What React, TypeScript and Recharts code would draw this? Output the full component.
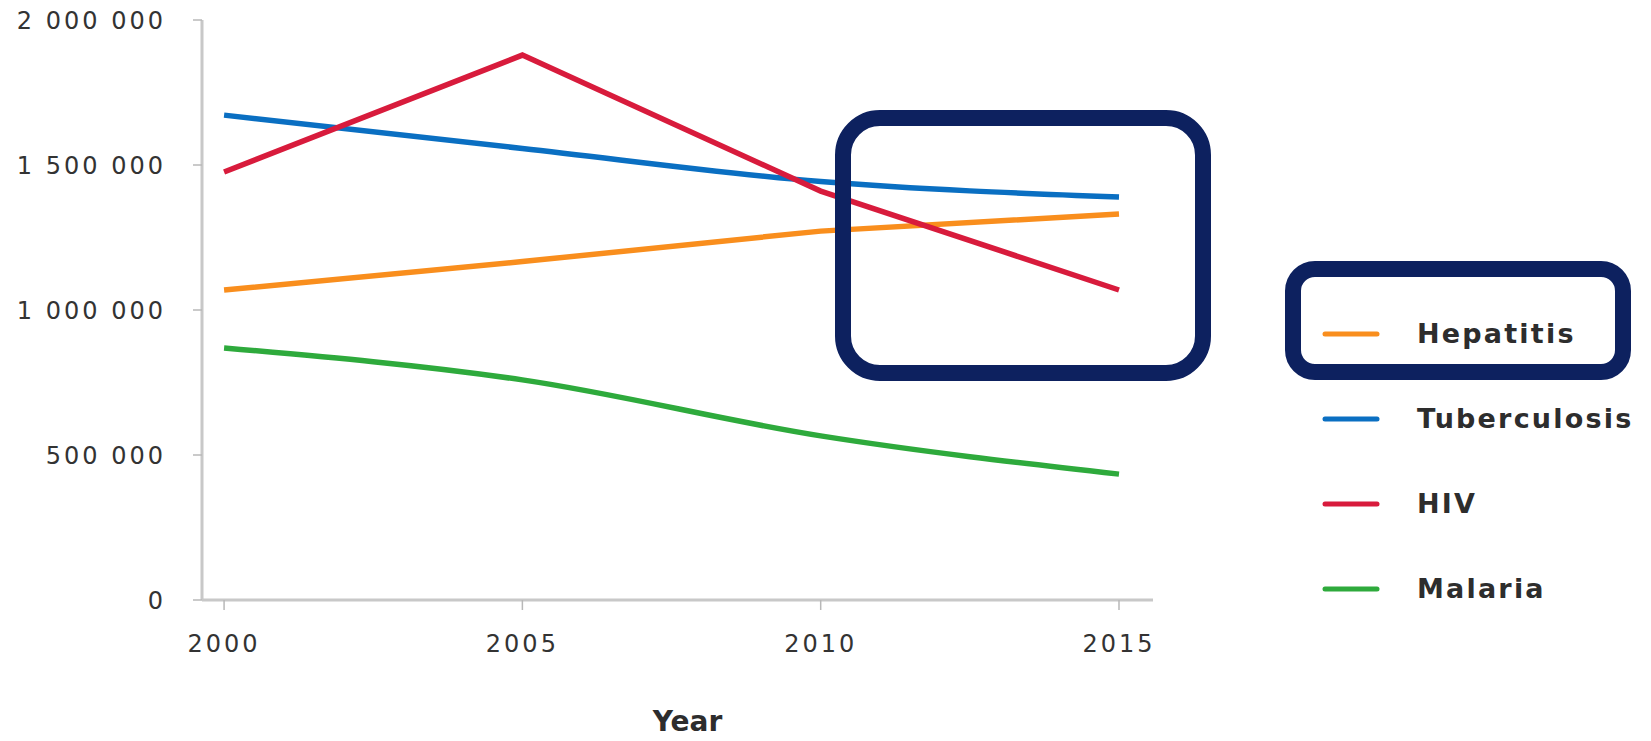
import React from 'react';
import { LineChart, Line, XAxis, YAxis } from 'recharts';

const years = [2000, 2005, 2010, 2015];
const hepatitis = [1069000, 1167000, 1272000, 1331000];
const tuberculosis = [1672000, 1557000, 1443000, 1390000];
const hiv = [1476000, 1879000, 1410000, 1069000];
const malaria = [869000, 759000, 566000, 434000];
const yTicks = [0, 500000, 1000000, 1500000, 2000000];
const xTicks = [2000, 2005, 2010, 2015];

const seriesNames = ['Hepatitis', 'Tuberculosis', 'HIV', 'Malaria'];
const seriesColors = ['#F98E1D', '#0A6FC2', '#D81B3C', '#2EAA3C'];

const data = years.map((y, i) => ({
  year: y,
  Hepatitis: hepatitis[i],
  Tuberculosis: tuberculosis[i],
  HIV: hiv[i],
  Malaria: malaria[i],
}));

const fmt = (v: number) => String(v).replace(/\B(?=(\d{3})+(?!\d))/g, ' ');

const tickStyle = { fontFamily: 'DejaVu Sans', fontSize: 24, fill: '#333', letterSpacing: 3 };
const NAVY = '#0D215F';

const LegendBlock = () => (
  <div
    style={{
      position: 'absolute',
      left: 1322,
      top: 291,
      width: 329,
      fontFamily: 'DejaVu Sans',
      fontWeight: 'bold',
      fontSize: 27,
      color: '#2d2d2d',
      letterSpacing: 2.2,
    }}
  >
    {seriesNames.map((n, i) => (
      <div key={n} style={{ display: 'flex', alignItems: 'center', height: 85 }}>
        <svg width={58} height={10} style={{ display: 'block' }}>
          <line x1={3} y1={5} x2={55} y2={5} stroke={seriesColors[i]} strokeWidth={5} strokeLinecap="round" />
        </svg>
        <span style={{ marginLeft: 37 }}>{n}</span>
      </div>
    ))}
  </div>
);

export default function App() {
  return (
    <div style={{ position: 'absolute', left: 0, top: 0, width: 1651, height: 741, background: '#fff', overflow: 'hidden' }}>
      <LineChart width={1651} height={741} data={data} margin={{ top: 20, right: 498, bottom: 0, left: 0 }}>
        <XAxis
          dataKey="year"
          type="number"
          domain={[1999.63, 2015.57]}
          ticks={xTicks}
          height={141}
          axisLine={{ stroke: '#c8c8c8', strokeWidth: 3 }}
          tickLine={{ stroke: '#b8b8b8', strokeWidth: 1.5 }}
          tickSize={10}
          tickMargin={25}
          tick={tickStyle}
          label={{
            value: 'Year',
            position: 'insideBottom',
            offset: 10,
            dx: 10,
            style: { fontFamily: 'DejaVu Sans', fontWeight: 'bold', fontSize: 28, fill: '#2d2d2d' },
          }}
        />
        <YAxis
          type="number"
          domain={[0, 2000000]}
          ticks={yTicks}
          width={202}
          axisLine={{ stroke: '#c8c8c8', strokeWidth: 3 }}
          tickLine={{ stroke: '#b8b8b8', strokeWidth: 1.5 }}
          tickSize={9}
          tickMargin={27}
          tick={tickStyle}
          tickFormatter={fmt}
        />
        <Line dataKey="Hepatitis" stroke={seriesColors[0]} strokeWidth={5.5} dot={false} type="linear" isAnimationActive={false} />
        <Line dataKey="Tuberculosis" stroke={seriesColors[1]} strokeWidth={5.5} dot={false} type="monotone" isAnimationActive={false} />
        <Line dataKey="HIV" stroke={seriesColors[2]} strokeWidth={5.5} dot={false} type="linear" isAnimationActive={false} />
        <Line dataKey="Malaria" stroke={seriesColors[3]} strokeWidth={5.5} dot={false} type="monotone" isAnimationActive={false} />
      </LineChart>
      <LegendBlock />
      <svg width={1651} height={741} style={{ position: 'absolute', left: 0, top: 0, pointerEvents: 'none' }}>
        <rect x={843} y={118} width={360} height={255} rx={37} ry={37} fill="none" stroke={NAVY} strokeWidth={16} />
        <rect x={1293} y={269} width={330} height={103} rx={22} ry={22} fill="none" stroke={NAVY} strokeWidth={16} />
      </svg>
    </div>
  );
}
